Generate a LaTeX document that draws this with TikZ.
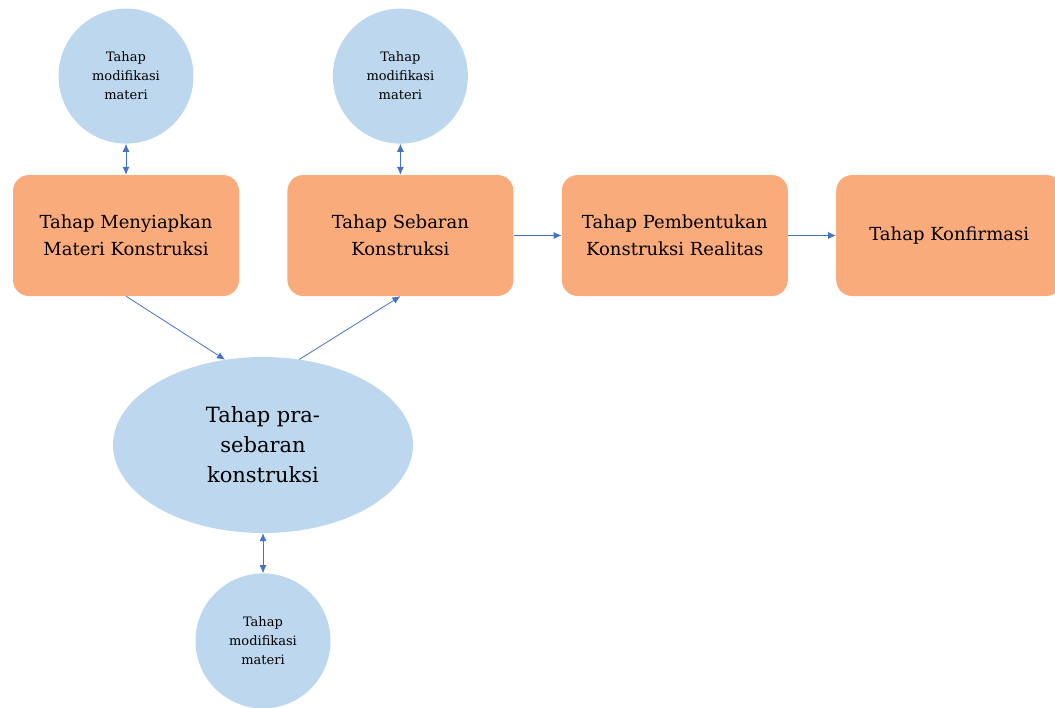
\documentclass[tikz,border=0pt]{standalone}
\usepackage{fontspec}
\setmainfont{DejaVu Serif}
\usetikzlibrary{arrows.meta, positioning, shapes.geometric}
\definecolor{stageorange}{RGB}{250,171,124}
\definecolor{stageblue}{RGB}{189,215,238}
\definecolor{linkblue}{RGB}{68,114,196}

\begin{document}
\begin{tikzpicture}[
            node distance=48pt,
            box/.style={fill=stageorange, rounded corners=16pt, minimum width=226pt, minimum height=121pt, align=center, text=black, font=\fontsize{18}{27}\selectfont},
            modif/.style={circle, fill=stageblue, minimum size=135pt, inner sep=0pt, align=center, text=black, font=\fontsize{13}{19}\selectfont},
            oval/.style={ellipse, fill=stageblue, minimum width=300pt, minimum height=176pt, inner sep=0pt, align=center, text=black, font=\fontsize{21}{30}\selectfont},
            link/.style={linkblue, line width=0.8pt, -{Latex[length=8pt, width=7pt]}},
            twoway/.style={linkblue, line width=0.8pt, {Latex[length=8pt, width=7pt]}-{Latex[length=8pt, width=7pt]}}
        ]
            \useasboundingbox (0,0) rectangle (1055pt,-707pt);
            \node[box] (menyiapkan) at (126pt,-235.5pt) {Tahap Menyiapkan\\Materi Konstruksi};
            \node[box, right=of menyiapkan] (sebaran) {Tahap Sebaran\\Konstruksi};
            \node[box, right=of sebaran] (pembentukan) {Tahap Pembentukan\\Konstruksi Realitas};
            \node[box, right=of pembentukan] (konfirmasi) {Tahap Konfirmasi};
            \node[modif, above=31pt of menyiapkan] (modifa) {Tahap\\modifikasi\\materi};
            \node[modif, above=31pt of sebaran] (modifb) {Tahap\\modifikasi\\materi};
            \node[oval] (prasebaran) at (263pt,-445pt) {Tahap pra-\\sebaran\\konstruksi};
            \node[modif, below=40pt of prasebaran] (modifc) {Tahap\\modifikasi\\materi};
            
            % Connections
            \draw[twoway] (modifa) -- (menyiapkan);
            \draw[twoway] (modifb) -- (sebaran);
            \draw[link] (sebaran) -- (pembentukan);
            \draw[link] (pembentukan) -- (konfirmasi);
            \draw[link] (menyiapkan.south) -- (prasebaran.114);
            \draw[link] (prasebaran.67) -- (sebaran.south);
            \draw[twoway] (prasebaran) -- (modifc);
        \end{tikzpicture}
\end{document}
